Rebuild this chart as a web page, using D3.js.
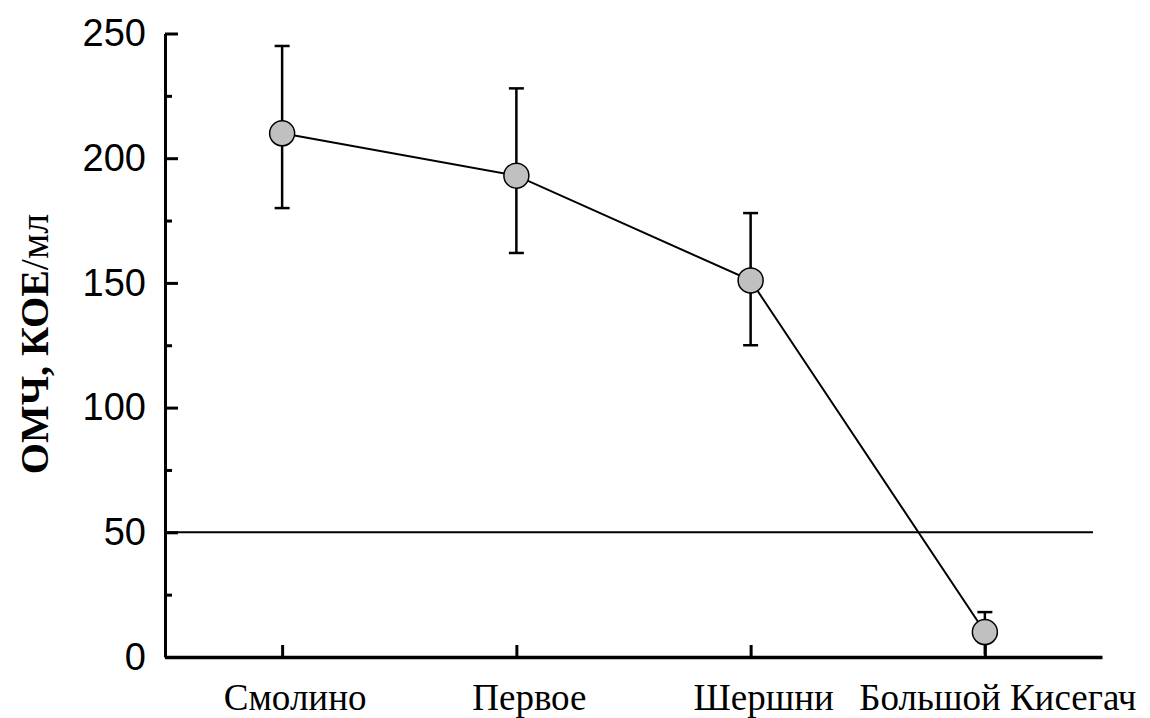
<!DOCTYPE html>
<html>
<head>
<meta charset="utf-8">
<script src="https://cdn.jsdelivr.net/npm/d3@7"></script>
<style>
  html, body { margin: 0; padding: 0; background: #fff; }
  svg { display: block; }
</style>
</head>
<body>
<svg id="chart" width="1150" height="718"></svg>
<script>
// Lakes and mean total microbial count with error ranges
const lakes = ["Смолино", "Первое", "Шершни", "Большой Кисегач"];
const meanValues = [210, 193, 151, 10];
const upperValues = [245, 228, 178, 18];
const lowerValues = [180, 162, 125, 1];
const majorTicks = [0, 50, 100, 150, 200, 250];
const minorTicks = [25, 75, 125, 175, 225];
const normValue = 50;

(function draw() {
  const svg = d3.select("#chart");
  const plotLeft = 165, plotRight = 1102, plotTop = 33.5, plotBottom = 657;

  const x = d3.scalePoint().domain(lakes).range([plotLeft, plotRight]).padding(0.5);
  const y = d3.scaleLinear().domain([0, 250]).range([plotBottom, plotTop]);

  // Y axis: major ticks pointing into the plot, labels on the left
  const yAxis = svg.append("g")
    .attr("transform", `translate(${plotLeft},0)`)
    .call(d3.axisLeft(y).tickValues(majorTicks).tickSizeInner(-13).tickSizeOuter(0).tickPadding(19));
  yAxis.select(".domain").attr("stroke", "#000").attr("stroke-width", 3);
  yAxis.selectAll(".tick line").attr("stroke", "#000").attr("stroke-width", 3);
  yAxis.selectAll(".tick text")
    .attr("font-family", "'Liberation Sans', Arial, sans-serif")
    .attr("font-size", 38)
    .attr("fill", "#000");

  // Minor ticks
  const yMinor = svg.append("g")
    .attr("transform", `translate(${plotLeft},0)`)
    .call(d3.axisLeft(y).tickValues(minorTicks).tickSizeInner(-7).tickSizeOuter(0).tickFormat(""));
  yMinor.select(".domain").remove();
  yMinor.selectAll(".tick line").attr("stroke", "#000").attr("stroke-width", 3);

  // X axis
  const xAxis = svg.append("g")
    .attr("transform", `translate(0,${plotBottom})`)
    .call(d3.axisBottom(x).tickSizeInner(-12).tickSizeOuter(0).tickPadding(0).tickFormat(""));
  xAxis.select(".domain").attr("stroke", "#000").attr("stroke-width", 3.5);
  xAxis.selectAll(".tick line").attr("stroke", "#000").attr("stroke-width", 3);

  // Category labels
  svg.append("g").selectAll("text")
    .data(lakes)
    .join("text")
    .attr("x", d => x(d))
    .attr("dx", 13)
    .attr("y", 710)
    .attr("text-anchor", "middle")
    .attr("font-family", "'Liberation Serif', 'Times New Roman', serif")
    .attr("font-size", 37)
    .attr("fill", "#000")
    .text(d => d);

  // Norm line
  svg.append("line")
    .attr("x1", plotLeft).attr("x2", 1093)
    .attr("y1", y(normValue)).attr("y2", y(normValue))
    .attr("stroke", "#000").attr("stroke-width", 2);

  // Y axis title
  const title = svg.append("text")
    .attr("transform", `translate(48,344) rotate(-90)`)
    .attr("text-anchor", "middle")
    .attr("font-family", "'Liberation Serif', 'Times New Roman', serif")
    .attr("font-size", 40)
    .attr("fill", "#000");
  title.append("tspan").attr("font-weight", "bold").text("ОМЧ, КОЕ");
  title.append("tspan").attr("font-weight", "normal").text("/мл");

  // Connecting line
  const points = lakes.map((d, i) => ({ lake: d, mean: meanValues[i], hi: upperValues[i], lo: lowerValues[i] }));
  svg.append("path")
    .datum(points)
    .attr("fill", "none")
    .attr("stroke", "#000")
    .attr("stroke-width", 2)
    .attr("d", d3.line().x(d => x(d.lake)).y(d => y(d.mean)));

  // Error bars
  const err = svg.append("g").attr("stroke", "#000").attr("stroke-width", 2.5);
  err.selectAll("line.stem").data(points).join("line")
    .attr("class", "stem")
    .attr("x1", d => x(d.lake)).attr("x2", d => x(d.lake))
    .attr("y1", d => y(d.hi)).attr("y2", d => y(d.lo));
  err.selectAll("line.capHi").data(points).join("line")
    .attr("class", "capHi")
    .attr("x1", d => x(d.lake) - 7.5).attr("x2", d => x(d.lake) + 7.5)
    .attr("y1", d => y(d.hi)).attr("y2", d => y(d.hi));
  err.selectAll("line.capLo").data(points.filter(d => d.lo > 2)).join("line")
    .attr("class", "capLo")
    .attr("x1", d => x(d.lake) - 7.5).attr("x2", d => x(d.lake) + 7.5)
    .attr("y1", d => y(d.lo)).attr("y2", d => y(d.lo));

  // Markers
  svg.append("g").selectAll("circle").data(points).join("circle")
    .attr("cx", d => x(d.lake))
    .attr("cy", d => y(d.mean))
    .attr("r", 12.5)
    .attr("fill", "#c0c0c0")
    .attr("stroke", "#000")
    .attr("stroke-width", 1.5);
})();
</script>
</body>
</html>
